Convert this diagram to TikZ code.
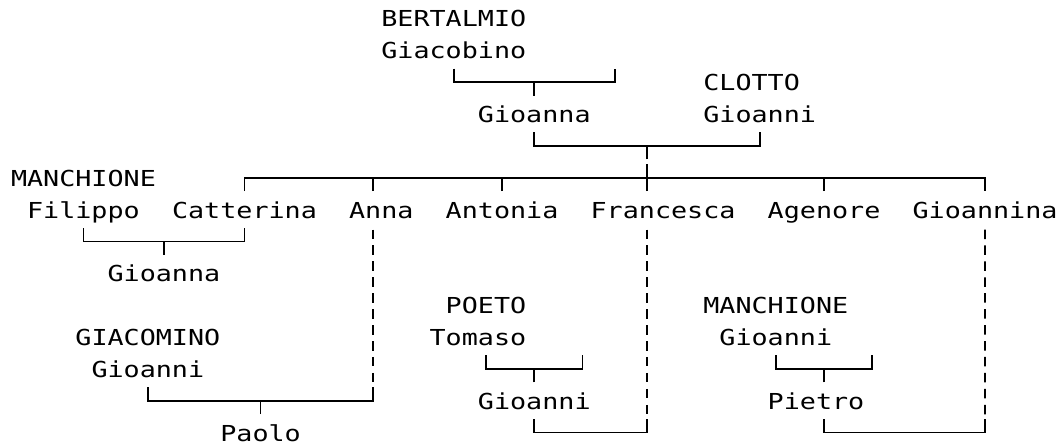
\documentclass[tikz,border=0pt]{standalone}
\usepackage{fontspec}
\newfontfamily\treefont[FakeStretch=1.2156]{DejaVu Sans Mono}
\usetikzlibrary{calc}

\tikzset{
  person/.style={anchor=north west,inner sep=0pt,outer sep=0pt,
    text height=27pt,text depth=9.86pt,font=\treefont\fontsize{22pt}{27pt}\selectfont},
  tie/.style={line width=1.8pt},
  kin/.style={tie,dash pattern=on 9.5pt off 6.43pt,dash phase=-1.5pt}
}

\begin{document}
\begin{tikzpicture}[x=16.1pt,y=-31.86pt]
  \useasboundingbox (0,0) rectangle (1059pt,-446pt);
  \begin{scope}[shift={(11pt,0pt)}]
  % grandparents
  \node[person] (bertalmio) at (23,0) {BERTALMIO};
  \node[person] (giacobino) at (23,1) {Giacobino};
  \node[person] (clotto) at (43,2) {CLOTTO};
  \node[person] (gioanna) at (29,3) {Gioanna};
  \node[person] (gioanni) at (43,3) {Gioanni};
  % children
  \node[person] (manchione) at (0,5) {MANCHIONE};
  \node[person] (filippo) at (1,6) {Filippo};
  \node[person] (catterina) at (10,6) {Catterina};
  \node[person] (anna) at (21,6) {Anna};
  \node[person] (antonia) at (27,6) {Antonia};
  \node[person] (francesca) at (36,6) {Francesca};
  \node[person] (agenore) at (47,6) {Agenore};
  \node[person] (gioannina) at (56,6) {Gioannina};
  \node[person] (gioannab) at (6,8) {Gioanna};
  % in-laws and grandchildren
  \node[person] (poeto) at (27,9) {POETO};
  \node[person] (manchioneb) at (43,9) {MANCHIONE};
  \node[person] (giacomino) at (4,10) {GIACOMINO};
  \node[person] (tomaso) at (26,10) {Tomaso};
  \node[person] (gioannim) at (44,10) {Gioanni};
  \node[person] (gioannig) at (5,11) {Gioanni};
  \node[person] (gioannip) at (29,12) {Gioanni};
  \node[person] (pietro) at (47,12) {Pietro};
  \node[person] (paolo) at (13,13) {Paolo};

  \coordinate (bertspouse) at (37.5,2.157);
  \coordinate (sibs) at (39.5,5);
  \coordinate (annaline) at (22.5,0);
  \coordinate (franline) at (39.5,0);
  \coordinate (tomline) at (29.5,0);
  \coordinate (pietline) at (50.5,0);
  \coordinate (poetospouse) at (35.5,11.157);
  \coordinate (manspouse) at (53.5,11.157);
  \coordinate (annaend) at (22.5,12.157);
  \coordinate (franend) at (39.5,13.157);
  \coordinate (ginaend) at (60.5,13.157);

  % couples
  \draw[tie] (giacobino.south) -- ++(0,0.42) -| (bertspouse);
  \draw[tie] (gioanna.north) -- ++(0,-0.42);
  \draw[tie] (gioanna.south) -- ++(0,0.42) -| (gioanni.south);
  \draw[tie] (sibs) -- ++(0,-0.42);
  % brothers and sisters
  \draw[tie] (catterina.north) -- ++(0,-0.42) -| (gioannina.north);
  \draw[tie] (anna.north -| annaline) -- ++(0,-0.42);
  \draw[tie] (antonia.north) -- ++(0,-0.42);
  \draw[tie] (agenore.north) -- ++(0,-0.42);
  \draw[tie] (francesca.north -| franline) -- ++(0,-0.843);
  \draw[tie] (filippo.south) -- ++(0,0.42) -| (catterina.south);
  \draw[tie] (gioannab.north) -- ++(0,-0.42);
  % marriages below
  \draw[kin] (anna.south -| annaline) -- (annaend);
  \draw[kin] (francesca.south -| franline) -- (franend);
  \draw[kin] (gioannina.south) -- (ginaend);
  \draw[tie] (gioannig.south) -- ++(0,0.42) -| (annaend);
  \draw[tie] (paolo.north) -- ++(0,-0.42);
  \draw[tie] (tomaso.south -| tomline) -- ++(0,0.42) -| (poetospouse);
  \draw[tie] (gioannip.north) -- ++(0,-0.42);
  \draw[tie] (gioannip.south) -- ++(0,0.42) -| (franend);
  \draw[tie] (gioannim.south) -- ++(0,0.42) -| (manspouse);
  \draw[tie] (pietro.north -| pietline) -- ++(0,-0.42);
  \draw[tie] (pietro.south -| pietline) -- ++(0,0.42) -| (ginaend);
  \end{scope}
\end{tikzpicture}
\end{document}
